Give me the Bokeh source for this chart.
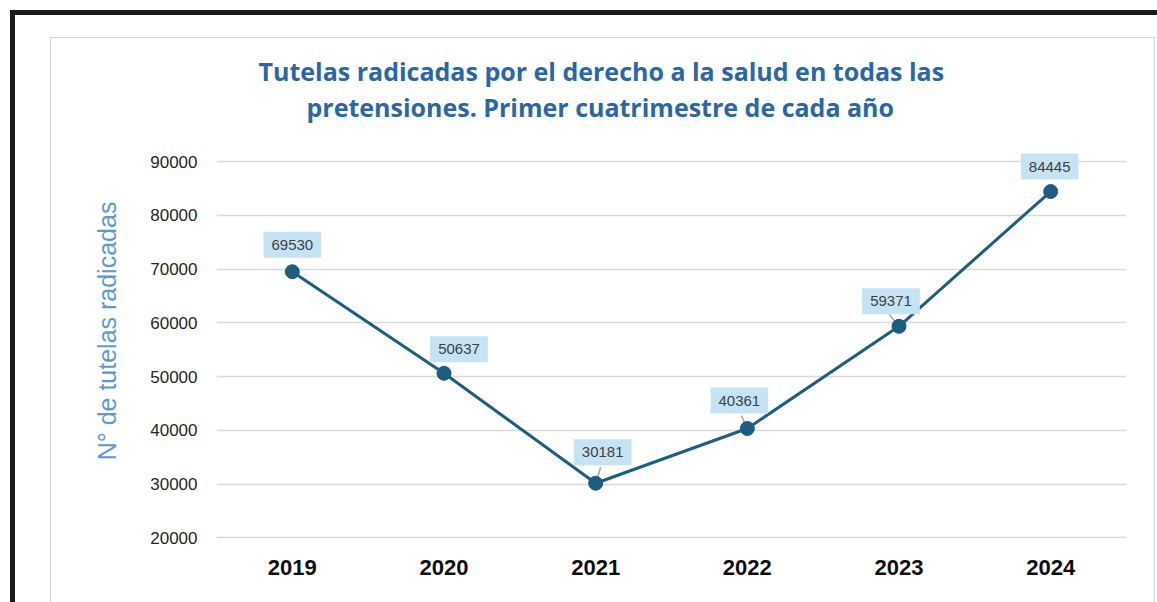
from bokeh.plotting import figure
from bokeh.models import ColumnDataSource, Range1d, FixedTicker, Title
from bokeh.core.properties import value
from bokeh.transform import dodge
from bokeh.embed import file_html
from bokeh.resources import INLINE

# ---- data ----
years = ["2019", "2020", "2021", "2022", "2023", "2024"]
tutelas = [69530, 50637, 30181, 40361, 59371, 84445]
y_ticks = [20000, 30000, 40000, 50000, 60000, 70000, 80000, 90000]
title_lines = ["Tutelas radicadas por el derecho a la salud en todas las",
               "pretensiones.  Primer cuatrimestre de cada año"]
y_label = "N° de tutelas radicadas"

# label placement (pixels, style only; negative = upward)
label_dx = [0, 15, 7, -8, -8, -1]
label_dy = [-27, -24, -31, -28, -25, -25]
# leader lines (index of point, start offset in px from the marker)
leaders = [(2, 5, 16), (3, -6, 13), (4, -10, 12)]

LINE = "#1b5e80"
TITLE_C = "#2a67a8"
W, H = 1157, 602
Y0, Y1 = 19900, 97100
FRAME_T, FRAME_B, FRAME_L, FRAME_R = 123, 538, 216, 1126

src = ColumnDataSource(dict(year=years, value=tutelas,
                            txt=[str(v) for v in tutelas],
                            dx=label_dx, dy=label_dy))

frame_css = {
    "background-color": "white",
    "box-shadow": ("inset 10px 10px 0 0 #ffffff, "
                   "inset 15px 15px 0 0 #1a1a1a, "
                   "inset 50px 37px 0 0 #ffffff, "
                   "inset -2px 0 0 0 #ffffff, "
                   "inset 51px 38px 0 0 #d4d4d4, "
                   "inset -3px 0 0 0 #d4d4d4"),
}

p = figure(width=W, height=H, x_range=years, y_range=Range1d(Y0, Y1),
           output_backend="svg", toolbar_location=None, title=None,
           min_border_left=FRAME_L, min_border_right=W - FRAME_R,
           min_border_top=FRAME_T, min_border_bottom=H - FRAME_B,
           styles=frame_css)

p.background_fill_color = "white"
p.border_fill_alpha = 0
p.outline_line_color = None

# leader lines from label boxes to markers
units_per_px_y = (Y1 - Y0) / (FRAME_B - FRAME_T)
cat_per_px_x = len(years) / (FRAME_R - FRAME_L)
for i, dxp, dyp in leaders:
    s = ColumnDataSource(dict(x=[years[i]], y=[tutelas[i]],
                              y0=[tutelas[i] + dyp * units_per_px_y]))
    p.segment(x0=dodge("x", dxp * cat_per_px_x, range=p.x_range), y0="y0",
              x1="x", y1="y", source=s, line_color="#a6a6a6", line_width=1.5)

p.line("year", "value", source=src, line_color=LINE, line_width=3)
p.scatter("year", "value", source=src, size=14, fill_color=LINE, line_color=LINE)

p.text(x="year", y="value", text="txt", source=src,
       x_offset="dx", y_offset="dy",
       text_align="center", text_baseline="middle",
       text_font=value("Liberation Sans"), text_font_size="15px",
       text_color="#404040",
       background_fill_color="#c5e3f3",
       padding=[8, 8])

# axes
p.yaxis.ticker = FixedTicker(ticks=y_ticks)
p.yaxis.axis_line_color = None
p.yaxis.major_tick_line_color = None
p.yaxis.minor_tick_line_color = None
p.yaxis.major_label_text_font = "Liberation Sans"
p.yaxis.major_label_text_font_size = "17px"
p.yaxis.major_label_text_color = "#262626"
p.yaxis.major_label_standoff = 13
p.yaxis.axis_label = y_label
p.yaxis.axis_label_text_font = "Liberation Sans"
p.yaxis.axis_label_text_font_style = "normal"
p.yaxis.axis_label_text_font_size = "25px"
p.yaxis.axis_label_text_color = "#5b9bd5"
p.yaxis.axis_label_standoff = 26

p.xaxis.axis_line_color = None
p.xaxis.major_tick_line_color = None
p.xaxis.minor_tick_line_color = None
p.xaxis.major_label_text_font = "Liberation Sans"
p.xaxis.major_label_text_font_style = "bold"
p.xaxis.major_label_text_font_size = "22px"
p.xaxis.major_label_text_color = "#0d0d0d"
p.xaxis.major_label_standoff = 15

p.xgrid.grid_line_color = None
p.ygrid.grid_line_color = "#d9d9d9"
p.ygrid.grid_line_width = 1.5

# two-line title (second line added first -> nearest the frame)
p.add_layout(Title(text=title_lines[1], align="left", offset=90, standoff=0,
                   text_font="Open Sans", text_font_style="bold",
                   text_font_size="25px", text_color=TITLE_C), "above")
p.add_layout(Title(text=title_lines[0], align="left", offset=42, standoff=0,
                   text_font="Open Sans", text_font_style="bold",
                   text_font_size="25px", text_color=TITLE_C), "above")

open("out.html", "w").write(file_html(p, INLINE))
